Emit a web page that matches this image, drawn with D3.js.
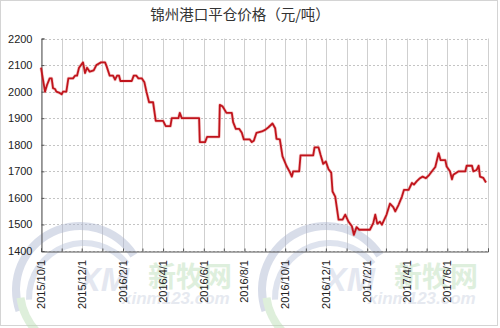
<!DOCTYPE html>
<html><head><meta charset="utf-8">
<script src="https://cdn.jsdelivr.net/npm/d3@7"></script>
<style>body{margin:0;background:#fff}svg{display:block}</style>
</head><body>
<script>
const title = "锦州港口平仓价格（元/吨）";
const dates = ["2015-10-01","2015-10-07","2015-10-10","2015-10-14","2015-10-17","2015-10-19","2015-10-22","2015-10-24","2015-10-29","2015-11-01",
"2015-11-03","2015-11-08","2015-11-11","2015-11-18","2015-11-21","2015-11-24","2015-11-27","2015-11-30","2015-12-03","2015-12-06",
"2015-12-09","2015-12-13","2015-12-19","2015-12-23","2015-12-30","2016-01-05","2016-01-07","2016-01-12","2016-01-17","2016-01-20",
"2016-01-23","2016-01-26","2016-01-28","2016-02-14","2016-02-17","2016-02-21","2016-02-24","2016-02-29","2016-03-04","2016-03-07",
"2016-03-11","2016-03-17","2016-03-21","2016-04-01","2016-04-05","2016-04-12","2016-04-14","2016-04-24","2016-04-26","2016-04-29",
"2016-05-25","2016-05-26","2016-06-03","2016-06-06","2016-06-24","2016-06-25","2016-06-29","2016-07-05","2016-07-13","2016-07-15",
"2016-07-19","2016-07-24","2016-07-28","2016-07-31","2016-08-09","2016-08-12","2016-08-15","2016-08-19","2016-08-27","2016-09-01",
"2016-09-06","2016-09-12","2016-09-16","2016-09-18","2016-09-23","2016-09-27","2016-10-03","2016-10-08","2016-10-11","2016-10-13",
"2016-10-22","2016-10-24","2016-11-12","2016-11-14","2016-11-20","2016-11-23","2016-11-27","2016-12-01","2016-12-05","2016-12-09",
"2016-12-11","2016-12-15","2016-12-20","2016-12-26","2016-12-30","2017-01-04","2017-01-09","2017-01-12","2017-01-16","2017-01-20",
"2017-02-05","2017-02-10","2017-02-13","2017-02-16","2017-02-20","2017-02-23","2017-03-02","2017-03-07","2017-03-12","2017-03-15",
"2017-03-20","2017-03-25","2017-03-28","2017-04-04","2017-04-09","2017-04-12","2017-04-16","2017-04-21","2017-04-25","2017-04-30",
"2017-05-05","2017-05-09","2017-05-14","2017-05-19","2017-05-22","2017-05-29","2017-05-31","2017-06-05","2017-06-08","2017-06-10",
"2017-06-18","2017-06-28","2017-06-30","2017-07-08","2017-07-10","2017-07-15","2017-07-18","2017-07-20","2017-07-25","2017-07-29"];
const prices = [2090,2000,2025,2050,2050,2013,2010,2000,1995,1990,
2000,2000,2050,2050,2060,2060,2090,2100,2110,2070,
2090,2075,2080,2100,2110,2110,2098,2060,2060,2045,
2060,2060,2040,2040,2060,2060,2050,2050,2035,2000,
1960,1960,1890,1890,1870,1870,1900,1900,1920,1900,
1900,1810,1810,1830,1830,1950,1945,1920,1920,1885,
1860,1860,1845,1820,1820,1810,1815,1845,1850,1856,
1866,1880,1862,1822,1820,1756,1720,1697,1680,1700,
1700,1760,1760,1790,1790,1762,1728,1737,1708,1695,
1624,1605,1518,1518,1537,1510,1493,1461,1490,1480,
1480,1505,1537,1503,1510,1499,1537,1578,1565,1549,
1574,1605,1630,1630,1656,1650,1662,1674,1680,1674,
1687,1700,1716,1768,1742,1742,1718,1700,1670,1687,
1700,1700,1721,1721,1700,1705,1721,1680,1675,1658];
const yTicks = [1400,1500,1600,1700,1800,1900,2000,2100,2200];
const xLabels = ["2015/10/1","2015/12/1","2016/2/1","2016/4/1","2016/6/1","2016/8/1","2016/10/1","2016/12/1","2017/2/1","2017/4/1","2017/6/1"];
const xDomain = ["2015-10-01","2017-08-01"];

const W = 500, H = 328;
const parse = d3.timeParse("%Y-%m-%d");
const lbl = d3.timeParse("%Y/%m/%d");
const data = dates.map((d,i)=>({d:parse(d), v:prices[i]}));

const svg = d3.select("body").append("svg").attr("width",W).attr("height",H);
svg.append("rect").attr("x",0.5).attr("y",0.5).attr("width",W-3).attr("height",H-3)
  .attr("fill","#fff").attr("stroke","#d4d4d4");

const x = d3.scaleTime().domain(xDomain.map(parse)).range([41,488]);
const y = d3.scaleLinear().domain([1400,2200]).range([251,38.5]);

// watermark (faint)
function watermark(dx){
  const g = svg.append("g").attr("transform",`translate(${dx},0)`).attr("opacity",0.45);
  const arc1 = d3.arc().innerRadius(60).outerRadius(68).startAngle(-1.9).endAngle(1.0);
  const arc2 = d3.arc().innerRadius(56).outerRadius(64).startAngle(-3.0).endAngle(-1.7);
  g.append("path").attr("d",arc1()).attr("transform","translate(80,290)").attr("fill","#aab4d0");
  g.append("path").attr("d",d3.arc().innerRadius(52).outerRadius(58).startAngle(-1.6).endAngle(0.9)()).attr("transform","translate(84,298)").attr("fill","#b8c2da");
  g.append("path").attr("d",arc2()).attr("transform","translate(80,290)").attr("fill","#b8dcb0");
  g.append("text").attr("x",78).attr("y",291).attr("font-family","Liberation Sans, Arial").attr("font-weight","bold")
   .attr("font-style","italic").attr("font-size",34).attr("fill","#c4cce0").text("XM");
  g.append("text").attr("x",148).attr("y",287).attr("font-family","Noto Sans CJK SC").attr("font-weight","bold")
   .attr("font-size",28).attr("fill","#b8dcb4").text("新牧网");
  g.append("text").attr("x",122).attr("y",304).attr("font-family","Liberation Sans, Arial").attr("font-weight","bold")
   .attr("font-style","italic").attr("font-size",17).attr("fill","#c8d0e0").text("xinm123.com");
}

// grid
const months = d3.timeMonth.range(parse(xDomain[0]), d3.timeDay.offset(parse(xDomain[1]),1));
svg.append("g").selectAll("line").data(months).join("line")
  .attr("x1",d=>Math.round(x(d))+0.5).attr("x2",d=>Math.round(x(d))+0.5)
  .attr("y1",y(2200)).attr("y2",y(1400)).attr("stroke","#cfcfcf").attr("stroke-width",1);
svg.append("g").selectAll("line").data(yTicks).join("line")
  .attr("x1",x.range()[0]).attr("x2",x.range()[1])
  .attr("y1",d=>Math.round(y(d))+0.5).attr("y2",d=>Math.round(y(d))+0.5)
  .attr("stroke","#c4c4c4").attr("stroke-dasharray","2,2");

watermark(0);
watermark(246);

// axes
const yAxis = d3.axisLeft(y).tickValues(yTicks).tickSize(-3).tickPadding(9).tickFormat(d3.format("d"));
const gy = svg.append("g").attr("transform",`translate(${Math.round(x.range()[0])+0.5},0)`).call(yAxis);
gy.select(".domain").attr("stroke","#555");
gy.selectAll(".tick line").attr("stroke","#555");
gy.selectAll("text").attr("font-family","Liberation Sans, Arial").attr("font-size",11).attr("fill","#222");

const xAxis = d3.axisBottom(x).tickValues(months).tickSize(-3).tickFormat("");
const gx = svg.append("g").attr("transform",`translate(0,${Math.round(y(1400))+0.5})`).call(xAxis);
gx.select(".domain").attr("stroke","#555");
gx.selectAll(".tick line").attr("stroke","#555");

svg.append("g").selectAll("text").data(xLabels).join("text")
  .attr("transform",d=>`translate(${x(lbl(d))+4},260) rotate(-90)`)
  .attr("text-anchor","end").attr("font-family","Liberation Sans, Arial").attr("font-size",11).attr("fill","#222")
  .text(d=>d);

// line
const line = d3.line().x(d=>x(d.d)).y(d=>y(d.v));
svg.append("path").datum(data).attr("d",line).attr("fill","none")
  .attr("stroke","#e06060").attr("stroke-width",3.2).attr("opacity",0.35).attr("stroke-linejoin","round");
svg.append("path").datum(data).attr("d",line).attr("fill","none")
  .attr("stroke","#c0141c").attr("stroke-width",1.8).attr("stroke-linejoin","round");

// title
svg.append("text").attr("x",240).attr("y",20).attr("text-anchor","middle")
  .attr("font-family","Noto Sans CJK SC").attr("font-size",14.5).attr("fill","#333").text(title);
</script>
</body></html>
